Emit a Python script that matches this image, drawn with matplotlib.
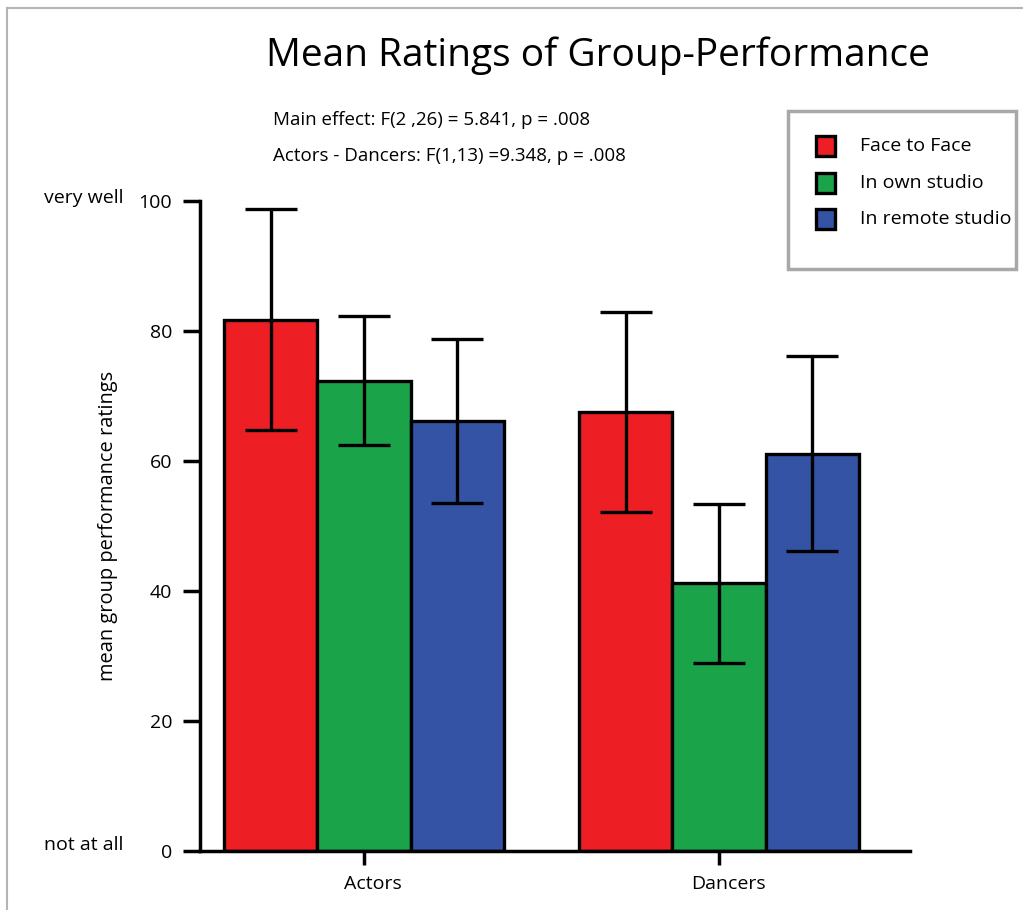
import matplotlib
matplotlib.use("Agg")
import matplotlib.pyplot as plt
import matplotlib.transforms as mtransforms
from matplotlib.lines import Line2D
from matplotlib.patches import Rectangle
import numpy as np

groups = ["Actors", "Dancers"]
conditions = ["Face to Face", "In own studio", "In remote studio"]
means = {
    "Face to Face": [81.7, 67.6],
    "In own studio": [72.3, 41.2],
    "In remote studio": [66.1, 61.1],
}
err_upper = {
    "Face to Face": [98.8, 82.9],
    "In own studio": [82.3, 53.4],
    "In remote studio": [78.7, 76.1],
}
err_lower = {
    "Face to Face": [64.7, 52.2],
    "In own studio": [62.4, 29.0],
    "In remote studio": [53.6, 46.2],
}
colors = ["#ED1F24", "#1BA34A", "#3453A5"]
yticks = [0, 20, 40, 60, 80, 100]

FONT = ["Open Sans", "DejaVu Sans"]
plt.rcParams["font.family"] = FONT

W, H = 1023, 910
fig = plt.figure(figsize=(W / 100, H / 100), dpi=100)
ax = fig.add_axes([200 / W, 1 - 851 / H, 710 / W, 650 / H])

x = np.arange(len(groups))
bw = 0.262
for i, c in enumerate(conditions):
    xs = x + (i - 1) * bw
    m = np.array(means[c])
    lo = m - np.array(err_lower[c])
    hi = np.array(err_upper[c]) - m
    ax.bar(xs, m, width=bw, color=colors[i], edgecolor="black", linewidth=2.4, zorder=2)
    ax.errorbar(xs, m, yerr=[lo, hi], fmt="none", ecolor="black", elinewidth=2.4,
                capsize=18.5, capthick=2.4, zorder=3)

ax.set_xlim(-164 / 355, 546 / 355)
ax.set_ylim(0, 100)
for s in ["top", "right"]:
    ax.spines[s].set_visible(False)
for s in ["left", "bottom"]:
    ax.spines[s].set_linewidth(2.5)
ax.set_yticks(yticks)
ax.set_yticklabels([str(v) for v in yticks], fontsize=14)
ax.set_xticks(x)
ax.set_xticklabels(groups, fontsize=14)
ax.tick_params(axis="y", length=12, width=2.5, pad=8)
ax.tick_params(axis="x", length=10, width=2.5, pad=7)
off = mtransforms.ScaledTranslation(9 / 100, 0, fig.dpi_scale_trans)
for lbl in ax.get_xticklabels():
    lbl.set_transform(lbl.get_transform() + off)

ax.set_ylabel("mean group performance ratings", fontsize=14.4)
ax.yaxis.set_label_coords((108 - 200) / 710, 0.5)
ax.yaxis.label.set_verticalalignment("center")

bt = mtransforms.blended_transform_factory(fig.transFigure, ax.transData)
ax.text(123 / W, 100.5, "very well", transform=bt, ha="right", va="center", fontsize=14)
ax.text(123 / W, 1, "not at all", transform=bt, ha="right", va="center", fontsize=14)

fig.text(598 / W, 1 - 56 / H, "Mean Ratings of Group-Performance", ha="center", va="center",
         fontsize=28)
fig.text(273 / W, 1 - 120 / H, "Main effect: F(2 ,26) = 5.841, p = .008", ha="left",
         va="center", fontsize=13.5)
fig.text(273 / W, 1 - 156 / H, "Actors - Dancers: F(1,13) =9.348, p = .008", ha="left",
         va="center", fontsize=13.5)

# legend box
fig.patches.append(Rectangle((788 / W, 1 - 269 / H), 228 / W, 158 / H, transform=fig.transFigure,
                             facecolor="white", edgecolor="#A8A8A8", linewidth=2.5))
for i, c in enumerate(conditions):
    yc = [146, 183, 219][i]
    fig.patches.append(Rectangle((816 / W, 1 - (yc + 9.5) / H), 19 / W, 19 / H,
                                 transform=fig.transFigure, facecolor=colors[i],
                                 edgecolor="black", linewidth=2.4))
    fig.text(860 / W, 1 - yc / H, c, ha="left", va="center", fontsize=14)

# outer gray frame lines (top and left)
fig.add_artist(Line2D([7 / W, 1], [1 - 8 / H, 1 - 8 / H], transform=fig.transFigure,
                      color="#B5B5B5", linewidth=1.5))
fig.add_artist(Line2D([7 / W, 7 / W], [0, 1 - 8 / H], transform=fig.transFigure,
                      color="#B5B5B5", linewidth=1.5))

fig.savefig("out.png", dpi=100, facecolor="white")
